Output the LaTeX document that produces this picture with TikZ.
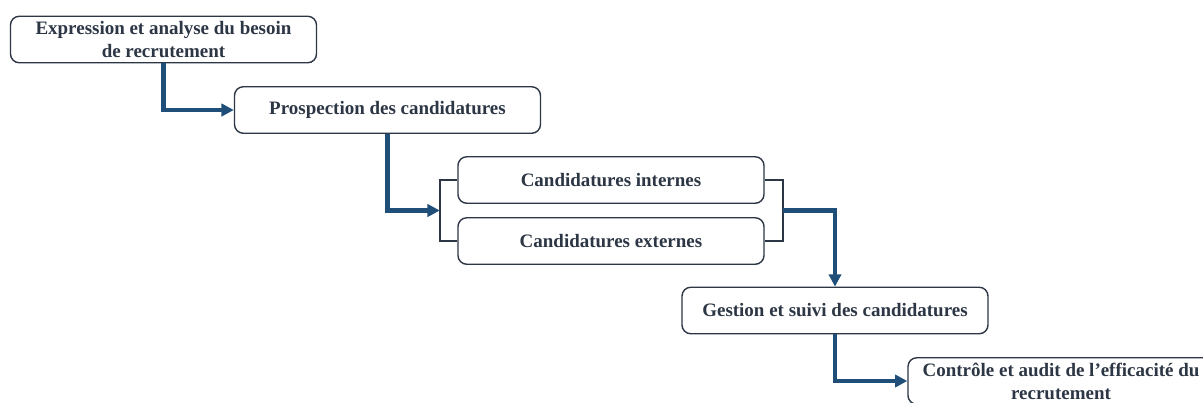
\documentclass[tikz,border=0pt]{standalone}
\usepackage{fontspec}
\setmainfont{Liberation Serif}
\usetikzlibrary{arrows.meta, positioning, calc}
\definecolor{arrowblue}{RGB}{31,78,121}
\definecolor{boxline}{RGB}{44,54,68}
\tikzset{
	etape/.style={draw=boxline, line width=0.8pt, rounded corners=5pt, fill=white,
		text=boxline, font=\bfseries\fontsize{10.8}{13}\selectfont, align=center,
		minimum width=6.12cm, minimum height=0.93cm, inner sep=1pt},
	fleche/.style={draw=arrowblue, line width=2.3pt, -{Triangle[length=7pt, width=7pt]}},
	accolade/.style={draw=boxline, line width=1pt}
}

\begin{document}
\begin{tikzpicture}
\clip (0,0) rectangle (24.06,-8.04);

\node[etape] (besoin) at (3.27,-0.79) {Expression et analyse du besoin\\de recrutement};
\node[etape] (prospection) at (7.75,-2.2) {Prospection des candidatures};
\node[etape] (internes) at (12.22,-3.6) {Candidatures internes};
\node[etape] (externes) at (12.22,-4.82) {Candidatures externes};
\node[etape] (gestion) at (16.7,-6.21) {Gestion et suivi des candidatures};
\node[etape] (controle) at (21.22,-7.62) {Contrôle et audit de l’efficacité du\\recrutement};

\draw[accolade] (internes.west) -- ++(-0.35,0) |- (externes.west);
\draw[accolade] (internes.east) -- ++(0.37,0) |- (externes.east);
\coordinate (gauche) at ($(internes.west)!0.5!(externes.west)+(-0.35,0)$);
\coordinate (droite) at ($(internes.east)!0.5!(externes.east)+(0.37,0)$);

\draw[fleche] (besoin.south) |- (prospection.west);
\draw[fleche] (prospection.south) |- (gauche);
\draw[fleche] (droite) -| (gestion.north);
\draw[fleche] (gestion.south) |- (controle.west);
\end{tikzpicture}
\end{document}
